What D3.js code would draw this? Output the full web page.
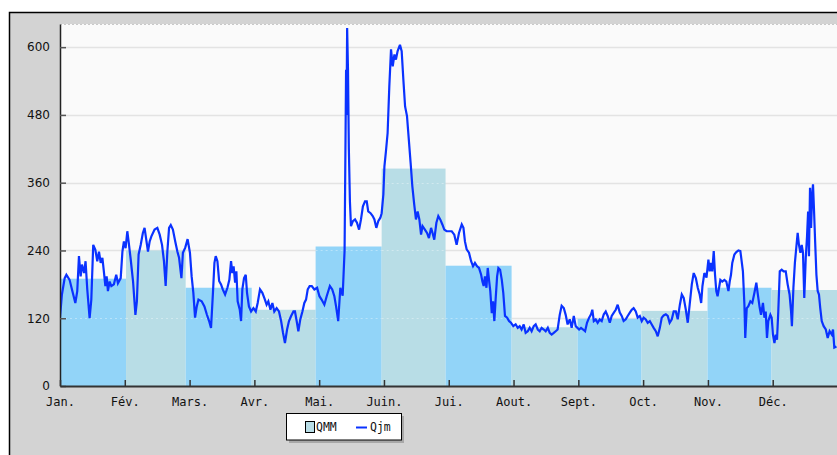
<!DOCTYPE html>
<html>
<head>
<meta charset="utf-8">
<script src="https://cdn.jsdelivr.net/npm/d3@7"></script>
<style>
  html, body { margin: 0; padding: 0; background: #ffffff; }
  svg { display: block; }
</style>
</head>
<body>
<svg id="chart" width="837" height="455"></svg>
<script>
// ---------- DATA ----------
const months = ["Jan.", "Fév.", "Mars.", "Avr.", "Mai.", "Juin.", "Jui.", "Aout.", "Sept.", "Oct.", "Nov.", "Déc."];
const monthStartDay = [0, 31, 59, 90, 120, 151, 181, 212, 243, 273, 304, 334, 365];
const qmm = [190, 240, 174, 135, 247, 385, 213, 104, 119, 133, 174, 170];
const yTicks = [0, 120, 240, 360, 480, 600];

// daily flow (Qjm): day of year and value
const qjmDay = [
  0, 0.9, 2.2, 3, 4.5, 6, 7.2, 8.1, 8.9, 9.7, 10.3, 11.3, 12, 12.8, 13.9, 14.7, 15.6, 16.6, 17.5, 18.3,
  19.1, 19.9, 20.5, 21.3, 21.9, 22.5, 23.3, 24.1, 25.3, 26.4, 27.2, 28.5, 29.3, 30, 30.8, 31.6, 32.2, 33.2, 34.3, 35.4,
  36.1, 36.9, 37.9, 38.9, 39.7, 40.5, 41.3, 42.1, 42.9, 44.4, 45.7, 46.8, 47.9, 48.8, 49.6, 50.4, 51.2, 52, 53, 54.1,
  55.1, 55.9, 57, 57.7, 58.8, 59.9, 61, 61.8, 62.6, 63.4, 64.2, 65, 66.5, 67.8, 68.9, 70, 70.9, 71.8, 72.5, 73.1,
  73.9, 74.7, 75.6, 76.4, 77.5, 78.6, 79.5, 80.3, 80.9, 81.5, 82.2, 82.8, 83.4, 84.4, 85, 85.6, 86.4, 87.2, 87.8, 88.7,
  89.7, 90.8, 91.9, 92.8, 93.9, 95, 95.9, 97, 97.8, 98.8, 99.7, 100.6, 101.7, 102.8, 103.8, 104.7, 105.6, 106.6, 107.5, 108.5,
  109.6, 110.3, 111.1, 111.9, 112.8, 113.8, 114.7, 115.5, 116.3, 117.2, 118.2, 119.4, 120.7, 121.8, 122.8, 124.1, 125.2, 126.7, 127.8, 128.8,
  129.6, 130.6, 131.6, 132.7, 133.6, 134, 134.3, 134.5, 134.8, 135.2, 135.6, 136.1, 136.6, 137.5, 138.5, 139.4, 140.4, 141.3, 142.2, 143.2,
  144, 144.7, 145.8, 146.8, 147.6, 148.5, 149.4, 150.4, 151, 151.8, 152.3, 153, 153.8, 154.6, 155.4, 156.2, 157, 157.7, 158.5, 159.6,
  160.4, 161.2, 162, 162.9, 163.7, 164.6, 165.4, 166.3, 167.1, 167.9, 168.7, 169.5, 170.2, 171.3, 172.3, 173.2, 174.2, 174.9, 175.7, 176.7,
  177.6, 178.5, 179.5, 180.4, 181.5, 182.3, 183.9, 185.1, 186.2, 187.3, 188.6, 189.4, 190.1, 190.9, 192, 193, 193.9, 194.8, 195.8, 196.7,
  197.7, 198.3, 198.9, 199.5, 200.2, 200.8, 201.4, 202, 202.7, 203.3, 203.9, 204.5, 205.2, 205.8, 206.6, 207.4, 208.1, 208.9, 209.9, 210.8,
  211.7, 212.8, 213.9, 214.9, 215.8, 216.7, 217.7, 218.6, 219.6, 220.5, 221.4, 222.4, 223.3, 224.3, 225.2, 226.1, 227.1, 228, 229, 229.9,
  230.8, 231.8, 232.7, 233.6, 234.6, 235.5, 236.5, 237.4, 238.3, 239.3, 240.2, 241.2, 242.1, 243.7, 244.6, 245.6, 246.5, 247.4, 248.4, 249.3,
  249.9, 250.6, 251.5, 252.4, 253.4, 254.3, 255.3, 256.2, 257.1, 258.1, 259, 260, 260.9, 261.8, 262.8, 263.7, 264.6, 265.6, 266.5, 267.5,
  268.4, 269.3, 270.3, 271.2, 272.2, 273.1, 274, 275, 275.9, 276.9, 277.8, 278.7, 279.7, 280.6, 281.6, 282.5, 283.4, 284.4, 285.3, 286.2,
  287.2, 288.1, 289.1, 290, 291, 291.9, 292.8, 293.8, 294.7, 295.6, 296.6, 297.5, 298.5, 299.4, 300.3, 301, 301.6, 302.5, 303.5, 304.4,
  305, 305.6, 306.2, 306.9, 307.5, 308.1, 308.7, 309.4, 310, 310.9, 311.9, 312.8, 313.8, 314.4, 315, 315.6, 316.6, 317.5, 318.5, 319.4,
  320, 320.6, 321.3, 321.7, 322.4, 323.1, 324.1, 325, 326, 326.9, 327.5, 328.5, 329.1, 330, 330.7, 331.3, 331.9, 332.5, 333.5, 334.1,
  334.7, 335.4, 336, 336.6, 337.2, 337.9, 338.8, 339.7, 340.7, 341.6, 342.5, 343.2, 343.6, 344.3, 345, 345.7, 346.3, 346.9, 347.6, 348.2,
  348.8, 349.4, 350.1, 350.7, 351.2, 351.6, 352.1, 352.6, 353.1, 353.5, 354, 354.5, 355.1, 355.7, 356.3, 356.9, 357.6, 358.5, 359.5, 360.4,
  361.3, 362.3, 362.9, 363.5, 364.5
];
const qjmValue = [
  122, 162, 191, 197, 188, 165, 147, 168, 230, 194, 215, 200, 221, 171, 120, 153, 250, 241, 221, 238,
  218, 227, 206, 177, 194, 168, 185, 177, 180, 197, 182, 191, 238, 256, 244, 274, 256, 224, 185, 126,
  150, 233, 250, 271, 280, 259, 238, 256, 265, 277, 280, 268, 250, 221, 177, 238, 280, 285, 277, 256,
  238, 227, 191, 236, 245, 260, 236, 194, 165, 121, 141, 153, 150, 141, 127, 115, 103, 165, 218, 230,
  221, 186, 180, 171, 162, 174, 188, 221, 200, 212, 183, 203, 150, 135, 115, 171, 191, 197, 165, 141,
  132, 138, 132, 147, 171, 165, 156, 144, 150, 135, 147, 132, 138, 132, 115, 94, 76, 100, 115, 124,
  132, 132, 115, 97, 118, 132, 147, 153, 171, 177, 177, 171, 174, 159, 153, 144, 159, 177, 171, 159,
  141, 115, 174, 160, 240, 420, 560, 480, 634, 560, 420, 327, 283, 292, 295, 289, 277, 295, 318, 327,
  327, 309, 306, 301, 295, 280, 292, 298, 306, 339, 389, 415, 448, 531, 596, 566, 587, 578, 593, 604,
  593, 542, 495, 478, 439, 395, 354, 321, 295, 309, 295, 268, 283, 277, 271, 262, 280, 271, 259, 289,
  301, 295, 286, 277, 274, 274, 274, 268, 250, 271, 286, 280, 256, 242, 236, 221, 212, 218, 212, 209,
  197, 185, 177, 194, 174, 209, 188, 168, 129, 150, 115, 153, 194, 209, 206, 188, 165, 124, 121, 115,
  112, 106, 109, 103, 106, 100, 109, 94, 97, 103, 97, 106, 109, 100, 97, 103, 100, 97, 103, 94,
  91, 94, 97, 100, 126, 142, 138, 126, 109, 118, 103, 124, 106, 100, 103, 100, 97, 112, 121, 127,
  135, 115, 118, 112, 118, 115, 127, 132, 124, 112, 124, 130, 135, 144, 130, 124, 115, 118, 124, 130,
  135, 138, 132, 121, 124, 115, 121, 118, 112, 115, 109, 103, 97, 88, 103, 121, 125, 127, 124, 112,
  118, 132, 132, 118, 144, 162, 156, 135, 112, 144, 180, 200, 191, 174, 162, 147, 177, 200, 192, 224,
  203, 218, 203, 239, 197, 168, 159, 174, 188, 185, 188, 185, 168, 185, 197, 218, 233, 237, 240, 239,
  221, 203, 144, 85, 138, 141, 150, 147, 165, 183, 165, 138, 126, 147, 121, 132, 85, 115, 126, 121,
  91, 76, 91, 82, 132, 203, 206, 203, 203, 180, 162, 132, 106, 174, 218, 247, 271, 250, 236, 250,
  236, 156, 227, 265, 309, 230, 351, 280, 339, 357, 309, 256, 197, 168, 162, 138, 115, 106, 100, 85,
  97, 91, 100, 68, 70
];

// ---------- LAYOUT ----------
const svg = d3.select("#chart");
const plot = { left: 60, top: 24, right: 837.5, bottom: 386 };

const xDay = d3.scaleLinear().domain([0, 365]).range([plot.left, plot.right]);
const xMonth = d3.scaleLinear().domain([0, 12]).range([plot.left, plot.right]);
const y = d3.scaleLinear().domain([0, 641]).range([plot.bottom, plot.top]);

// outer frame
svg.append("rect").attr("x", 9.5).attr("y", 12.5).attr("width", 900).attr("height", 500)
  .attr("fill", "#d3d3d3").attr("stroke", "#000").attr("stroke-width", 1.5);

// plot background
svg.append("rect").attr("x", plot.left).attr("y", plot.top)
  .attr("width", plot.right - plot.left).attr("height", plot.bottom - plot.top)
  .attr("fill", "#fafafa");
svg.append("line").attr("x1", plot.left).attr("x2", plot.right).attr("y1", plot.top + 0.5).attr("y2", plot.top + 0.5)
  .attr("stroke", "#c8c8c8").attr("stroke-dasharray", "2,2");

// gridlines
svg.append("g").selectAll("line").data(yTicks.filter(d => d > 0)).join("line")
  .attr("x1", plot.left).attr("x2", plot.right)
  .attr("y1", d => Math.round(y(d)) + 0.5).attr("y2", d => Math.round(y(d)) + 0.5)
  .attr("stroke", "#e3e3e3").attr("stroke-width", 1.5);

// QMM bars
const barColors = ["#92d4f8", "#b8dde6"];
svg.append("g").selectAll("rect").data(qmm).join("rect")
  .attr("x", (d, i) => xDay(monthStartDay[i]))
  .attr("width", (d, i) => xDay(monthStartDay[i + 1]) - xDay(monthStartDay[i]))
  .attr("y", d => y(d))
  .attr("height", d => y(0) - y(d))
  .attr("fill", (d, i) => barColors[i % 2]);

// faint dotted gridlines visible through the bars only
const inside = [];
qmm.forEach((v, i) => yTicks.filter(t => t > 0 && t < v).forEach(t => inside.push({ i, t })));
svg.append("g").selectAll("line").data(inside).join("line")
  .attr("x1", d => xDay(monthStartDay[d.i])).attr("x2", d => xDay(monthStartDay[d.i + 1]))
  .attr("y1", d => Math.round(y(d.t)) + 0.5).attr("y2", d => Math.round(y(d.t)) + 0.5)
  .attr("stroke", "#ffffff").attr("stroke-opacity", 0.35).attr("stroke-dasharray", "2,3");

// Qjm line
svg.append("clipPath").attr("id", "clip").append("rect")
  .attr("x", plot.left).attr("y", plot.top - 2).attr("width", plot.right - plot.left).attr("height", plot.bottom - plot.top + 2);
const pts = qjmDay.map((d, i) => [d, qjmValue[i]]);
svg.append("path").datum(pts)
  .attr("clip-path", "url(#clip)")
  .attr("fill", "none").attr("stroke", "#0a32ff").attr("stroke-width", 2.2)
  .attr("stroke-linejoin", "miter").attr("stroke-miterlimit", 3)
  .attr("d", d3.line().x(d => xDay(d[0])).y(d => y(d[1])));

// Y axis
const yAxis = d3.axisLeft(y).tickValues(yTicks).tickSizeInner(-6).tickSizeOuter(0).tickPadding(10);
const gy = svg.append("g").attr("transform", `translate(${plot.left},0)`).call(yAxis);
gy.select(".domain").attr("stroke", "#222").attr("stroke-width", 1.5);
gy.selectAll(".tick line").attr("stroke", "#555").attr("stroke-width", 1.5);
gy.selectAll(".tick text").attr("font-family", "DejaVu Sans, sans-serif").attr("font-size", 12).attr("fill", "#111");

// X axis (12 equal month ticks)
const xAxis = d3.axisBottom(xMonth).tickValues(d3.range(12)).tickFormat(i => months[i])
  .tickSizeInner(-6).tickSizeOuter(0).tickPadding(11);
const gx = svg.append("g").attr("transform", `translate(0,${plot.bottom})`).call(xAxis);
gx.select(".domain").attr("stroke", "#333").attr("stroke-width", 2);
gx.selectAll(".tick line").attr("stroke", "#333").attr("stroke-width", 1.5);
gx.selectAll(".tick text").attr("font-family", "DejaVu Sans Mono, monospace").attr("font-size", 12).attr("fill", "#111");

// Legend
const lg = svg.append("g");
lg.append("rect").attr("x", 289).attr("y", 416).attr("width", 115).attr("height", 27).attr("fill", "#a8a8a8");
lg.append("rect").attr("x", 286.5).attr("y", 413.5).attr("width", 115).attr("height", 26.5)
  .attr("fill", "#ffffff").attr("stroke", "#000").attr("stroke-width", 1);
lg.append("rect").attr("x", 305.5).attr("y", 421.5).attr("width", 9).attr("height", 11)
  .attr("fill", barColors[1]).attr("stroke", "#000").attr("stroke-width", 1);
lg.append("text").attr("x", 316).attr("y", 431).text("QMM")
  .attr("font-family", "DejaVu Sans Mono, monospace").attr("font-size", 11.5).attr("fill", "#111");
lg.append("line").attr("x1", 356).attr("x2", 367).attr("y1", 427.5).attr("y2", 427.5)
  .attr("stroke", "#0a32ff").attr("stroke-width", 2);
lg.append("text").attr("x", 370).attr("y", 431).text("Qjm")
  .attr("font-family", "DejaVu Sans Mono, monospace").attr("font-size", 11.5).attr("fill", "#111");
</script>
</body>
</html>
